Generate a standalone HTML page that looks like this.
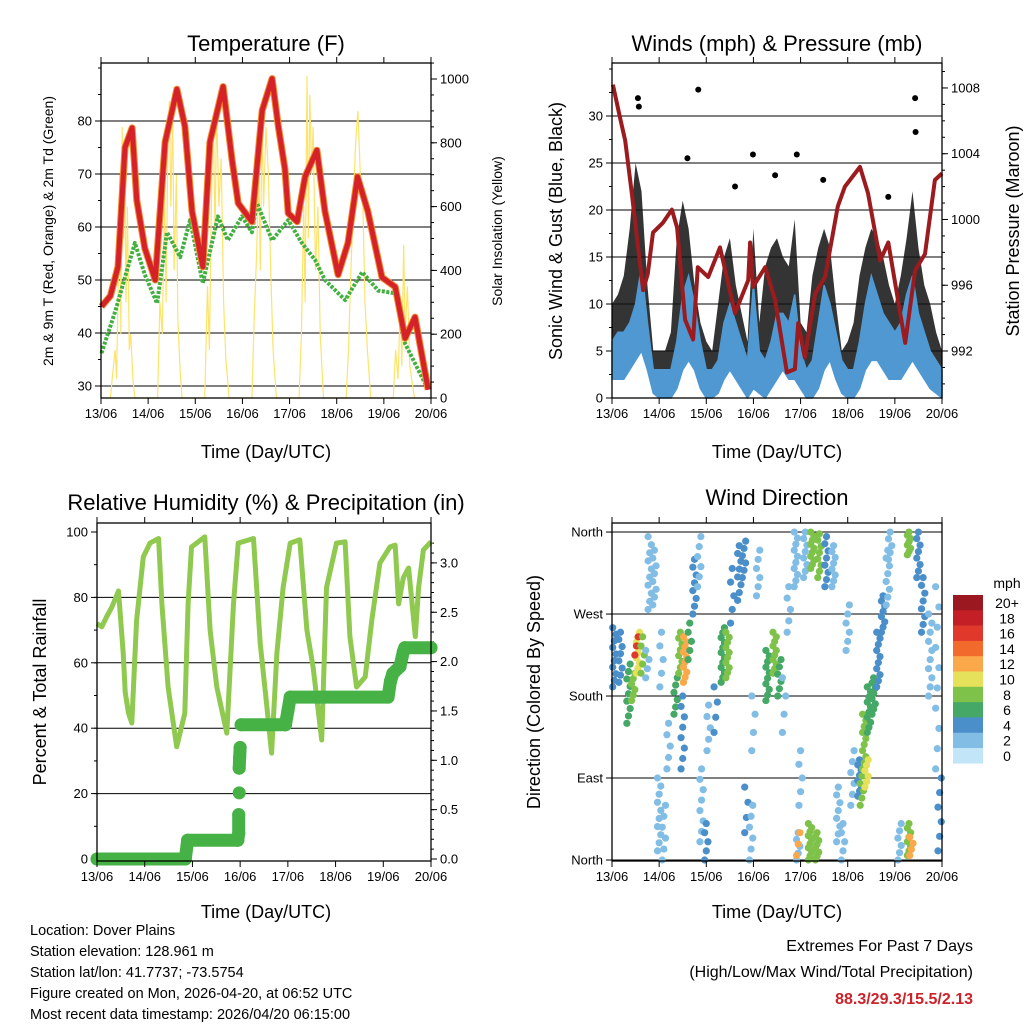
<!DOCTYPE html>
<html><head><meta charset="utf-8"><style>
html,body{margin:0;padding:0;background:#fff;}
svg{display:block;font-family:"Liberation Sans",sans-serif;}
</style></head><body>
<svg id="chart" width="1024" height="1024" viewBox="0 0 1024 1024"></svg>
<script>
// ---------- DATA ----------
const dayLabels=['13/06','14/06','15/06','16/06','17/06','18/06','19/06','20/06'];
// Temperature (F)
const tempT=[0.01,0.2,0.36,0.51,0.66,0.76,0.93,1.15,1.36,1.61,1.78,1.93,2.16,2.31,2.59,2.78,2.91,3.2,3.42,3.63,3.76,3.9,3.97,4.16,4.33,4.58,4.75,5.03,5.24,5.44,5.66,5.96,6.24,6.45,6.66,6.94];
const tempV=[45,47,52.5,75,78.7,65,56,50,76,86,79,63,52.5,76,86.5,72.6,64.5,61,82,88,79,71,62.6,61,69.5,74.5,63,51,57,69.5,63,50.5,48.7,39,43,29.3];
const dewT=[0.01,0.3,0.72,0.93,1.19,1.4,1.68,1.89,2.16,2.48,2.69,2.99,3.2,3.31,3.63,3.97,4.26,4.54,4.75,5.18,5.54,5.88,6.24,6.45,6.94];
const dewV=[36.2,44,57,51,45.6,59,54.3,61.3,49.4,62,57.5,62,59,64.5,57.5,61.3,57,53.8,50,46.2,51.5,48,47.5,38,29.3];
const solarT=[0.2,0.25,0.3,0.33,0.37,0.4,0.42,0.45,0.48,0.5,0.53,0.56,0.6,0.63,0.68,0.72,
1.2,1.25,1.3,1.35,1.38,1.42,1.45,1.48,1.52,1.55,1.6,1.63,1.68,1.72,
2.2,2.26,2.3,2.35,2.38,2.42,2.45,2.5,2.55,2.6,2.65,2.72,
3.2,3.25,3.3,3.35,3.38,3.42,3.45,3.5,3.55,3.6,3.65,3.72,
4.2,4.25,4.3,4.33,4.37,4.4,4.43,4.47,4.5,4.55,4.6,4.65,4.72,
5.2,5.25,5.3,5.35,5.4,5.45,5.5,5.55,5.6,5.65,5.72,
6.2,6.25,6.3,6.35,6.38,6.42,6.45,6.5,6.55,6.6,6.65];
const solarV=[0,80,150,60,400,700,200,850,500,780,300,600,150,200,50,0,
0,300,200,650,300,800,930,600,900,400,700,250,80,0,
0,350,150,700,880,500,920,600,750,300,120,0,
0,250,450,700,400,880,600,850,700,400,150,0,
0,200,600,300,1010,500,950,700,850,400,600,200,0,
0,150,400,600,800,900,700,650,300,150,0,
0,150,60,300,100,480,200,350,100,50,0];
// Winds (mph) sampled every 0.125 day
const windStep=0.125;
const windHi=[6,7,7,8,10,14,8,3,3,3,3,6,11,13,10,6,3,3,4,8,10,8,6,4,12,5,4,6,9,9,8,11,5,3,4,8,12,10,7,4,3,3,6,10,13,11,9,8,7,8,11,13,9,7,5,4,3];
const windLo=[2,2,2,3,4,5,3,0.5,0,0,0,1,3,4,3,1,0,0,0.5,2,3,2,1,0,1,0.5,0,1,2,3,2,2,1,0,0,1,3,4,2,0.5,0,0,1,3,4,4,3,2,2,2,3,4,3,2,1,0.5,0];
const gustHi=[10,11,13,18,25,22,12,5,5,5,7,17,21,18,12,8,6,5,10,15,17,12,9,6,18,8,14,16,17,15,14,19,8,7,13,16,18,16,10,5,6,8,13,16,18,17,15,12,10,13,17,22,16,12,10,7,5];
const gustOutT=[0.55,0.57,1.83,6.43,6.44,2.99,3.92,1.6,4.48,2.61,5.86,3.46];
const gustOutV=[31.9,31,32.8,31.9,28.3,25.9,25.9,25.5,23.2,22.5,21.4,23.7];
// Pressure (mb)
const presT=[0.02,0.17,0.28,0.42,0.66,0.76,0.87,1.08,1.27,1.38,1.55,1.72,1.82,2.04,2.29,2.61,2.89,2.93,2.99,3.25,3.46,3.71,3.88,3.95,4.09,4.31,4.52,4.79,4.94,5.26,5.43,5.69,5.86,6.22,6.43,6.64,6.85,7.0];
const presV=[1008.2,1006.2,1004.8,1001.6,995.7,996.7,999.2,999.8,1000.6,999.5,993.9,992.7,997.1,996.5,998.3,994.3,996.3,998.6,995.9,997.1,995.1,990.7,990.9,993.7,991.6,995.5,996.5,1000.8,1002,1003.2,1001.6,997.5,998.6,992.5,996.9,997.9,1002.4,1002.8];
// Relative humidity (%)
const rhT=[0,0.1,0.2,0.31,0.45,0.55,0.59,0.66,0.73,0.83,0.97,1.11,1.29,1.36,1.49,1.67,1.84,1.91,1.98,2.26,2.37,2.51,2.72,2.86,2.96,3.28,3.42,3.56,3.66,3.77,3.9,4.05,4.25,4.4,4.53,4.71,4.81,5.02,5.2,5.3,5.44,5.62,5.76,5.93,6.14,6.25,6.32,6.42,6.53,6.67,6.74,6.84,7.0];
const rhV=[72,71,74,77,82,63,51,44.6,41.6,73,92.4,96.6,98,78,52.6,34.3,44.6,78,95.4,98.5,70,52.6,38.5,78,96.6,98,66,46.5,32.4,63,83,96.6,97.6,70,58.7,36.4,83,96.6,97,68,52.6,55.7,73,90.5,95.4,96,78,86,89,68,83,94.5,97];
// Accumulated rainfall (in)
const rainT=[0,1.85,1.9,2.95,2.97,2.97,2.98,2.98,2.99,3.0,3.02,3.95,4.0,4.05,6.1,6.15,6.2,6.35,6.42,6.45,7.0];
const rainV=[0,0,0.19,0.19,0.26,0.45,0.67,0.92,1.03,1.13,1.36,1.36,1.5,1.64,1.64,1.8,1.88,1.95,2.1,2.14,2.14];
// Wind direction clusters: day, dir start, dir end, speed, count
const dirDay=[0.05,0.18,0.35,0.45,0.55,0.52,0.65,0.8,0.9,0.75,1.0,1.1,1.2,1.05,1.35,1.45,1.55,1.5,1.65,1.75,1.85,1.9,2.0,2.05,2.2,2.35,2.45,2.55,2.7,2.8,2.85,2.95,3.0,3.1,3.3,3.45,3.55,3.65,3.75,3.9,3.95,4.0,4.1,3.95,4.2,4.35,4.25,4.4,4.55,4.7,4.8,4.9,5.0,5.1,5.25,5.3,5.35,5.4,5.45,5.55,5.65,5.75,5.85,5.9,6.1,6.3,6.3,6.35,6.5,6.6,6.75,6.9,6.95];
const dirFrom=[190,195,150,175,205,225,205,275,280,200,10,0,100,190,160,205,195,100,220,270,300,20,0,120,140,195,200,260,285,310,30,0,120,290,175,205,180,140,250,300,0,60,310,5,0,0,320,310,300,300,20,0,230,60,70,60,100,80,140,160,190,250,280,330,0,335,5,5,310,250,180,100,10];
const dirTo=[255,250,215,205,250,245,245,355,340,230,90,60,150,250,200,250,245,180,260,330,355,100,40,170,190,255,250,320,345,350,80,60,180,340,230,250,220,200,300,360,30,120,360,30,40,30,360,358,355,345,80,40,280,120,110,100,160,110,190,200,250,290,340,360,40,360,40,25,360,310,270,300,90];
const dirSpd=[4,4,6,7,10,15,8,2,1,2,1,2,1,2,5,8,11,3,6,3,2,2,3,1,4,5,7,3,3,4,4,1,1,1,5,8,6,1,1,2,2,1,1,11,7,8,8,7,4,1,1,1,1,1,3,7,8,10,6,5,4,4,2,1,2,8,7,11,3,4,2,2,3];
const dirCount=[10,8,9,6,9,3,5,10,8,4,10,6,5,5,6,8,10,8,5,8,6,8,5,5,4,12,10,5,8,6,4,6,4,6,10,10,6,4,5,10,5,5,8,3,10,8,10,8,8,8,8,5,6,6,8,6,10,6,10,8,10,8,8,5,6,8,8,4,8,8,10,10,6];
const speedLabels=['0','2','4','6','8','10','12','14','16','18','20+'];
const speedColors=['#c2e5f8','#82bde6','#4a8fca','#45a866','#7ec24a','#e6e15a','#fba84a','#f26a2c','#e0382a','#c41e26','#9c1820'];

// ---------- HELPERS ----------
const NS='http://www.w3.org/2000/svg';
const svg=document.getElementById('chart');
function mk(tag,attrs,parent){const e=document.createElementNS(NS,tag);for(const k in attrs)e.setAttribute(k,attrs[k]);(parent||svg).appendChild(e);return e;}
function txt(s,x,y,size,anchor,parent,extra){const t=mk('text',Object.assign({x:x,y:y,'font-size':size,'text-anchor':anchor||'middle',fill:'#000'},extra||{}),parent);t.textContent=s;return t;}
function linePath(xs,ys){return xs.map((x,i)=>(i?'L':'M')+x.toFixed(1)+','+ys[i].toFixed(1)).join('');}

function frame(g,P){
  mk('rect',{x:P.x0,y:P.y0,width:P.x1-P.x0,height:P.y1-P.y0,fill:'none',stroke:'#000','stroke-width':1.3},g);
  const dx=(P.x1-P.x0)/7;
  for(let i=0;i<=7;i++){
    const x=P.x0+i*dx;
    mk('line',{x1:x,y1:P.y1,x2:x,y2:P.y1+6,stroke:'#000'},g);
    mk('line',{x1:x,y1:P.y0,x2:x,y2:P.y0-6,stroke:'#000'},g);
    const t=txt(dayLabels[i],x,P.y1+20,13,'middle',g);
    
    
  }
}
function yAxis(g,P,side,ticks,minor,fy,labels,grid){
  const x=side==='l'?P.x0:P.x1, s=side==='l'?-1:1;
  minor.forEach(v=>{const y=fy(v);if(y>=P.y0&&y<=P.y1)mk('line',{x1:x,y1:y,x2:x+s*3,y2:y,stroke:'#000'},g);});
  ticks.forEach((v,i)=>{const y=fy(v);
    mk('line',{x1:x,y1:y,x2:x+s*6,y2:y,stroke:'#000'},g);
    if(grid&&grid.includes(v))mk('line',{x1:P.x0,y1:y,x2:P.x1,y2:y,stroke:'#000','stroke-width':1},g);
    const t=txt(labels[i],x+s*9,y+4.5,13,side==='l'?'end':'start',g);
    
    
  });
}
function range(a,b,st){const r=[];for(let v=a;v<=b+1e-9;v+=st)r.push(+v.toFixed(4));return r;}
function vlabel(s,x,y,size,g){const t=txt(s,x,y,size,'middle',g,{transform:'rotate(-90 '+x+' '+y+')'});return t;}

// ---------- PANEL 1: Temperature ----------
(function(){
  const P={x0:101,x1:431,y0:63,y1:398};
  const g=mk('g',{});
  
  
  const fx=d=>P.x0+d*(P.x1-P.x0)/7;
  const fy=T=>386-(T-30)*5.3;
  const fs=S=>398-S*0.319;
  const tg=[30,40,50,60,70,80];
  yAxis(g,P,'l',tg,range(30,90,5),fy,tg.map(String),tg);
  const sg=range(0,1000,200);
  yAxis(g,P,'r',sg,range(0,1050,50),fs,sg.map(String),null);
  const solar=mk('path',{d:linePath(solarT.map(fx),solarV.map(fs)),fill:'none',stroke:'#fde36a','stroke-width':1.2},g);
  
  
  const dew=mk('path',{d:linePath(dewT.map(fx),dewV.map(fy)),fill:'none',stroke:'#42b040','stroke-width':4,'stroke-linejoin':'round','stroke-dasharray':'3 1.5'},g);
  
  
  const t9=mk('path',{d:linePath(tempT.map(fx),tempV.map(fy)),fill:'none',stroke:'#f08a30','stroke-width':7,'stroke-linejoin':'round'},g);
  
  
  const t2=mk('path',{d:linePath(tempT.map(fx),tempV.map(fy)),fill:'none',stroke:'#d42228','stroke-width':5,'stroke-linejoin':'round'},g);
  
  
  frame(g,P);
  const ti=txt('Temperature (F)',266,51,22,'middle',g);
  
  
  const xl=txt('Time (Day/UTC)',266,458,18,'middle',g);
  
  
  const yl=vlabel('2m & 9m T (Red, Orange) & 2m Td (Green)',53,231,14,g);
  
  
  const yr=vlabel('Solar Insolation (Yellow)',502,231,14,g);
  
  
})();

// ---------- PANEL 2: Winds & Pressure ----------
(function(){
  const P={x0:612,x1:942,y0:63,y1:398};
  const g=mk('g',{});
  
  
  const fx=d=>P.x0+d*(P.x1-P.x0)/7;
  const fw=w=>398-w*9.4;
  const fp=p=>351-(p-992)*16.44;
  const wt=range(0,30,5);
  yAxis(g,P,'l',wt,range(0,35,2.5),fw,wt.map(String),[5,10,15,20,25,30]);
  const pt=[992,996,1000,1004,1008];
  yAxis(g,P,'r',pt,range(990,1010,1),fp,pt.map(String),null);
  const wx=windHi.map((v,i)=>fx(i*windStep));
  const gustBand=mk('path',{d:linePath(wx,gustHi.map(fw))+linePath(wx.slice().reverse(),windLo.slice().reverse().map(fw)).replace('M','L')+'Z',fill:'#111','fill-opacity':0.85},g);
  
  
  gustOutT.forEach((t,i)=>{
    const c=mk('circle',{cx:fx(t),cy:fw(gustOutV[i]),r:3,fill:'#000'},g);
    
    
  });
  const windBand=mk('path',{d:linePath(wx,windHi.map(fw))+linePath(wx.slice().reverse(),windLo.slice().reverse().map(fw)).replace('M','L')+'Z',fill:'#4f98d2',stroke:'#4f98d2','stroke-width':1.5},g);
  
  
  const pres=mk('path',{d:linePath(presT.map(fx),presV.map(fp)),fill:'none',stroke:'#9b1b1e','stroke-width':4,'stroke-linejoin':'round'},g);
  
  
  frame(g,P);
  const ti=txt('Winds (mph) & Pressure (mb)',777,51,22,'middle',g);
  
  
  const xl=txt('Time (Day/UTC)',777,458,18,'middle',g);
  
  
  const yl=vlabel('Sonic Wind & Gust (Blue, Black)',562,231,18,g);
  
  
  const yr=vlabel('Station Pressure (Maroon)',1019,231,18,g);
  
  
})();

// ---------- PANEL 3: RH & Precip ----------
(function(){
  const P={x0:97,x1:431,y0:523,y1:861};
  const g=mk('g',{});
  
  
  const fx=d=>P.x0+d*(P.x1-P.x0)/7;
  const fh=h=>859-h*3.27;
  const fr=r=>859-r*98.7;
  const ht=range(0,100,20);
  yAxis(g,P,'l',ht,range(0,100,10),fh,ht.map(String),[20,40,60,80]);
  const rt=range(0,3,0.5);
  yAxis(g,P,'r',rt,range(0,3.2,0.1),fr,rt.map(v=>v.toFixed(1)),null);
  const rh=mk('path',{d:linePath(rhT.map(fx),rhV.map(fh)),fill:'none',stroke:'#8fc94f','stroke-width':5,'stroke-linejoin':'round'},g);
  
  
  rainT.forEach((t,i)=>{
    if(i>0&&Math.abs(rainV[i]-rainV[i-1])<0.2){
      const l=mk('line',{x1:fx(rainT[i-1]),y1:fr(rainV[i-1]),x2:fx(t),y2:fr(rainV[i]),stroke:'#46b246','stroke-width':13,'stroke-linecap':'round'},g);
      
      
    }
    const c=mk('circle',{cx:fx(t),cy:fr(rainV[i]),r:6.5,fill:'#46b246'},g);
    
    
  });
  frame(g,P);
  const ti=txt('Relative Humidity (%) & Precipitation (in)',266,510,22,'middle',g);
  
  
  const xl=txt('Time (Day/UTC)',266,918,18,'middle',g);
  
  
  const yl=vlabel('Percent & Total Rainfall',46,692,18,g);
  
  
})();

// ---------- PANEL 4: Wind direction ----------
(function(){
  const P={x0:612,x1:942,y0:523,y1:861};
  const g=mk('g',{});
  
  
  const fx=d=>P.x0+d*(P.x1-P.x0)/7;
  const fd=deg=>860-deg*0.911;
  const dt=[0,90,180,270,360];
  yAxis(g,P,'l',dt,dt,fd,['North','East','South','West','North'],dt);
  const colorOf=s=>speedColors[Math.min(10,Math.max(0,Math.round(s/2)))];
  dirDay.forEach((d,k)=>{
    const n=dirCount[k];
    for(let i=0;i<n;i++){
      const deg=dirFrom[k]+(dirTo[k]-dirFrom[k])*(n>1?i/(n-1):0.5);
      const off=((i%3)-1)*0.035;
      const c=mk('circle',{cx:fx(Math.min(7,Math.max(0,d+off))),cy:fd(deg),r:3.6,fill:colorOf(dirSpd[k])},g);
      
      
    }
  });
  frame(g,P);
  const ti=txt('Wind Direction',777,505,22,'middle',g);
  
  
  const xl=txt('Time (Day/UTC)',777,918,18,'middle',g);
  
  
  const yl=vlabel('Direction (Colored By Speed)',540,692,18,g);
  
  
  // colorbar
  const cb=mk('g',{});
  
  
  const mu=txt('mph',1007,588,14,'middle',cb);
  
  
  for(let i=0;i<11;i++){
    const idx=10-i, y=595+i*15.3;
    const r=mk('rect',{x:953,y:y,width:30,height:15.6,fill:speedColors[idx]},cb);
    
    
    const t=txt(speedLabels[idx],1007,y+13,14,'middle',cb);
    
    
  }
})();

// ---------- FOOTER ----------
(function(){
  const g=mk('g',{});
  
  
  ['Location: Dover Plains','Station elevation: 128.961 m','Station lat/lon: 41.7737; -73.5754','Figure created on Mon, 2026-04-20, at 06:52 UTC','Most recent data timestamp: 2026/04/20 06:15:00'].forEach((s,i)=>{
    const t=txt(s,30,935+i*21,14.5,'start',g);
    
    
  });
  const e=mk('g',{});
  
  
  const a=txt('Extremes For Past 7 Days',973,951,16,'end',e);
  
  
  const b=txt('(High/Low/Max Wind/Total Precipitation)',973,977,16,'end',e);
  
  
  const c=txt('88.3/29.3/15.5/2.13',973,1004,16,'end',e,{fill:'#cc2229','font-weight':'bold'});
  
  
})();
</script>
</body></html>
